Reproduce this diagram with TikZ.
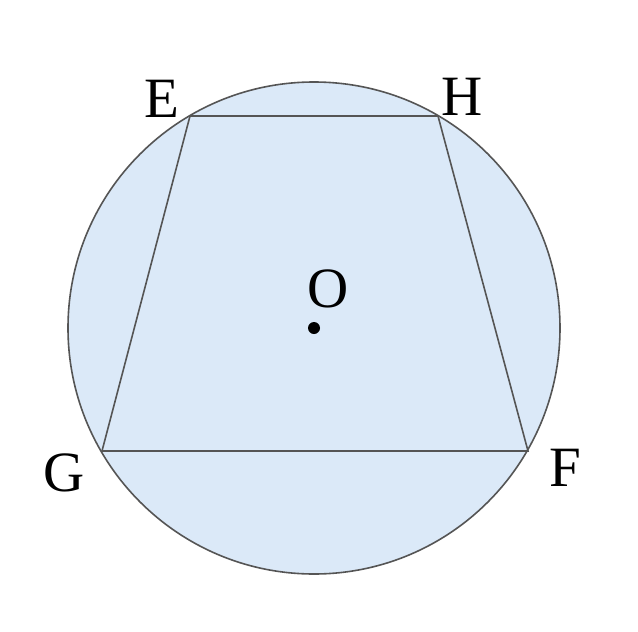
\documentclass[tikz,border=0pt]{standalone}
\usepackage{fontspec}
\setmainfont{Liberation Serif}
\definecolor{fillblue}{RGB}{219,233,248}
\definecolor{linegray}{RGB}{85,85,85}
\begin{document}
\begin{tikzpicture}[x=1pt,y=-1pt,
  lbl/.style={font=\fontsize{57}{60}\selectfont, inner sep=0pt, anchor=center},
  edge/.style={draw=linegray, line width=1.6pt}]
\useasboundingbox[fill=white] (0,0) rectangle (638,632);
\coordinate (O) at (314,328);
\coordinate (E) at (190,116);
\coordinate (H) at (438,116);
\coordinate (G) at (102,451);
\coordinate (F) at (528,451);
\draw[edge, fill=fillblue] (O) circle (246);
\draw[edge] (E) -- (H) -- (F) -- (G) -- cycle;
\fill[black] (O) circle (6);
\node[lbl] (lE) at (162,99) {E};
\node[lbl] (lH) at (462,97) {H};
\node[lbl] (lG) at (64,473) {G};
\node[lbl] (lF) at (565,468) {F};
\node[lbl] (lO) at (328,289) {O};
\end{tikzpicture}
\end{document}
